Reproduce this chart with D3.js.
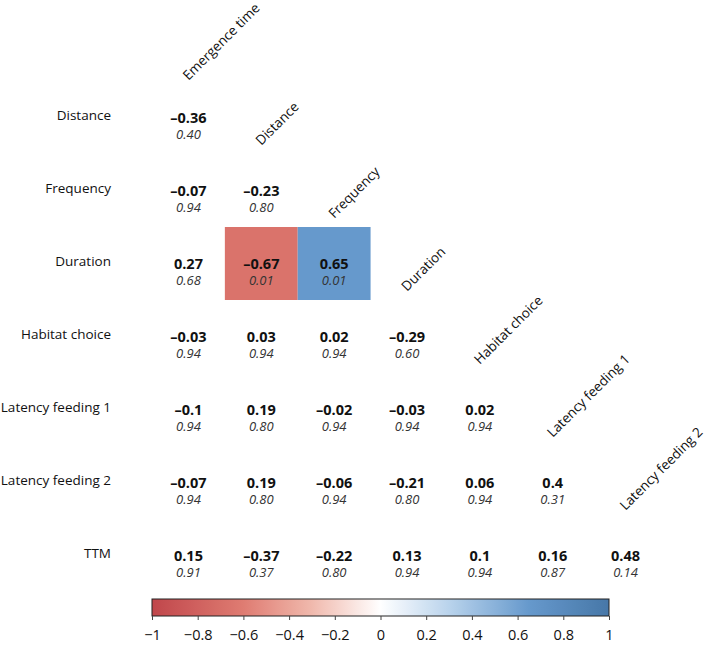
<!DOCTYPE html>
<html>
<head>
<meta charset="utf-8">
<script src="https://cdn.jsdelivr.net/npm/d3@7"></script>
<style>
  body { margin: 0; background: #fff; }
  svg { font-family: "Open Sans", sans-serif; }
</style>
</head>
<body>
<svg id="chart" width="709" height="647"></svg>
<script>
// variables in the matrix
const rowNames = ['Distance', 'Frequency', 'Duration', 'Habitat choice', 'Latency feeding 1', 'Latency feeding 2', 'TTM'];
const colNames = ['Emergence time', 'Distance', 'Frequency', 'Duration', 'Habitat choice', 'Latency feeding 1', 'Latency feeding 2'];

// correlation coefficients (lower triangle, one row per variable)
const rValues = [
  [-0.36],
  [-0.07, -0.23],
  [0.27, -0.67, 0.65],
  [-0.03, 0.03, 0.02, -0.29],
  [-0.1, 0.19, -0.02, -0.03, 0.02],
  [-0.07, 0.19, -0.06, -0.21, 0.06, 0.4],
  [0.15, -0.37, -0.22, 0.13, 0.1, 0.16, 0.48]
];

// adjusted p values
const pValues = [
  [0.40],
  [0.94, 0.80],
  [0.68, 0.01, 0.01],
  [0.94, 0.94, 0.94, 0.60],
  [0.94, 0.80, 0.94, 0.94, 0.94],
  [0.94, 0.80, 0.94, 0.80, 0.94, 0.31],
  [0.91, 0.37, 0.80, 0.94, 0.94, 0.87, 0.14]
];

const legendTicks = [-1, -0.8, -0.6, -0.4, -0.2, 0, 0.2, 0.4, 0.6, 0.8, 1];

const svg = d3.select('#chart');

const x = d3.scaleBand().domain(colNames.map((d, i) => i)).range([152, 662]);
const y = d3.scaleBand().domain(rowNames).range([81, 592]);

const color = d3.scaleLinear()
  .domain([-1, -0.6, -0.3, 0, 0.3, 0.65, 1])
  .range(['#c0464b', '#df7c72', '#f0b9ad', '#ffffff', '#b9d3ec', '#6699cc', '#4777a8'])
  .clamp(true);

const minus = (s) => s.replace('-', '\u2013');
const fmtP = d3.format('.2f');

// flatten matrix into cells
const cells = [];
rValues.forEach((row, i) => {
  row.forEach((r, j) => cells.push({ row: rowNames[i], col: j, r, p: pValues[i][j] }));
});

// highlighted (significant) cells
svg.append('g')
  .selectAll('rect')
  .data(cells.filter((d) => d.p < 0.05))
  .join('rect')
  .attr('x', (d) => x(d.col))
  .attr('y', (d) => y(d.row))
  .attr('width', x.bandwidth())
  .attr('height', y.bandwidth())
  .attr('fill', (d) => color(d.r));

const cell = svg.append('g')
  .selectAll('g')
  .data(cells)
  .join('g')
  .attr('transform', (d) => `translate(${x(d.col) + x.bandwidth() / 2},${y(d.row) + y.bandwidth() / 2})`)
  .attr('text-anchor', 'middle');

cell.append('text')
  .attr('dy', '0.35em')
  .style('font-size', '14.5px')
  .style('font-weight', 'bold')
  .attr('fill', '#111')
  .text((d) => minus(String(d.r)));

cell.append('text')
  .attr('y', 17)
  .attr('dy', '0.35em')
  .style('font-size', '13px')
  .style('font-style', 'italic')
  .attr('fill', '#333')
  .text((d) => fmtP(d.p));

// row labels
svg.append('g')
  .selectAll('text')
  .data(rowNames)
  .join('text')
  .attr('x', 111)
  .attr('y', (d) => y(d) + y.bandwidth() / 2 + 2)
  .attr('text-anchor', 'end')
  .style('font-size', '13.5px')
  .attr('fill', '#111')
  .text((d) => d);

// column labels, rotated along the diagonal
svg.append('g')
  .selectAll('text')
  .data(colNames)
  .join('text')
  .attr('transform', (d, i) => `translate(${x(i) + x.bandwidth() / 2},${y(rowNames[i]) - (i === 0 ? 0 : 8)}) rotate(-45)`)
  .style('font-size', '13.5px')
  .attr('fill', '#111')
  .text((d) => d);

// colour bar legend
const lx = d3.scaleLinear().domain([-1, 1]).range([152, 609]);
const defs = svg.append('defs');
const grad = defs.append('linearGradient').attr('id', 'cbar');
grad.selectAll('stop')
  .data(d3.range(-1, 1.001, 0.05))
  .join('stop')
  .attr('offset', (d) => `${((d + 1) / 2) * 100}%`)
  .attr('stop-color', (d) => color(d));

svg.append('rect')
  .attr('x', lx(-1))
  .attr('y', 599)
  .attr('width', lx(1) - lx(-1))
  .attr('height', 17)
  .attr('fill', 'url(#cbar)')
  .attr('stroke', '#222')
  .attr('stroke-width', 1);

const axis = svg.append('g')
  .attr('transform', 'translate(0,616)')
  .call(d3.axisBottom(lx).tickValues(legendTicks).tickSize(4).tickSizeOuter(0)
    .tickFormat((d) => minus(d3.format('')(d))));
axis.select('.domain').remove();
axis.selectAll('line').attr('stroke', '#444');
axis.selectAll('text')
  .attr('y', 14)
  .style('font-family', '"Open Sans", sans-serif')
  .style('font-size', '14.5px')
  .attr('fill', '#111');
</script>
</body>
</html>
